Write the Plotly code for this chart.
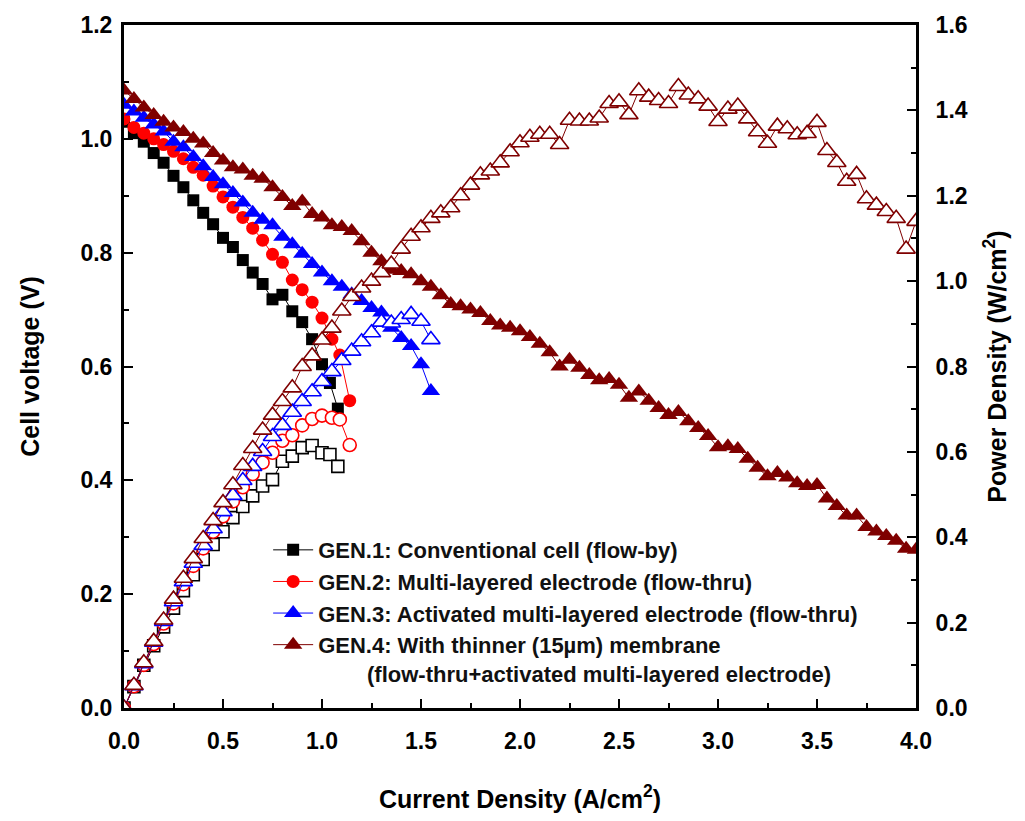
import plotly.graph_objects as go

# ---------------- data ----------------
J1 = [0.00, 0.05, 0.10, 0.15, 0.20, 0.25, 0.30, 0.35, 0.40, 0.45, 0.50, 0.55,
      0.60, 0.65, 0.70, 0.75, 0.80, 0.85, 0.90, 0.95, 1.00, 1.04, 1.08]
V1 = [1.03, 1.01, 0.995, 0.975, 0.958, 0.935, 0.915, 0.892, 0.870, 0.850, 0.826, 0.810,
      0.787, 0.765, 0.745, 0.718, 0.726, 0.697, 0.678, 0.648, 0.604, 0.571, 0.526]
P1 = [0.0, 0.050, 0.100, 0.146, 0.190, 0.234, 0.275, 0.312, 0.348, 0.383, 0.413, 0.446,
      0.472, 0.497, 0.520, 0.535, 0.578, 0.590, 0.610, 0.615, 0.598, 0.594, 0.566]

J2 = [0.00, 0.05, 0.10, 0.15, 0.20, 0.25, 0.30, 0.35, 0.40, 0.45, 0.50, 0.55,
      0.60, 0.65, 0.70, 0.75, 0.80, 0.85, 0.90, 0.95, 1.00, 1.05, 1.09, 1.14]
V2 = [1.035, 1.02, 1.01, 1.0, 0.99, 0.978, 0.965, 0.95, 0.936, 0.917, 0.898, 0.88,
      0.862, 0.843, 0.822, 0.797, 0.783, 0.752, 0.735, 0.713, 0.685, 0.648, 0.620, 0.540]
P2 = [0.0, 0.051, 0.101, 0.150, 0.198, 0.245, 0.290, 0.333, 0.374, 0.413, 0.449, 0.484,
      0.517, 0.548, 0.575, 0.598, 0.626, 0.639, 0.662, 0.677, 0.685, 0.680, 0.676, 0.616]

J3 = [0.00, 0.05, 0.10, 0.15, 0.20, 0.25, 0.30, 0.35, 0.40, 0.45, 0.50, 0.55,
      0.60, 0.65, 0.70, 0.75, 0.80, 0.85, 0.90, 0.95, 1.00, 1.05, 1.10, 1.15,
      1.20, 1.25, 1.30, 1.35, 1.40, 1.45, 1.50, 1.55]
V3 = [1.06, 1.048, 1.037, 1.025, 1.013, 0.995, 0.985, 0.968, 0.952, 0.933, 0.92, 0.905,
      0.888, 0.87, 0.858, 0.848, 0.828, 0.815, 0.798, 0.78, 0.765, 0.75, 0.74, 0.727,
      0.715, 0.703, 0.695, 0.668, 0.65, 0.636, 0.604, 0.557]
P3 = [0.0, 0.052, 0.104, 0.154, 0.203, 0.249, 0.296, 0.339, 0.381, 0.420, 0.460, 0.498,
      0.533, 0.566, 0.601, 0.636, 0.662, 0.693, 0.718, 0.741, 0.765, 0.788, 0.814, 0.836,
      0.858, 0.879, 0.904, 0.902, 0.910, 0.922, 0.906, 0.863]

J4 = [0.00, 0.05, 0.10, 0.15, 0.20, 0.25, 0.30, 0.35, 0.40, 0.45, 0.50, 0.55,
      0.60, 0.65, 0.70, 0.75, 0.80, 0.85, 0.90, 0.95, 1.00, 1.05, 1.10, 1.15,
      1.20, 1.25, 1.30, 1.35, 1.40, 1.45, 1.50, 1.55, 1.60, 1.65, 1.70, 1.75,
      1.80, 1.85, 1.90, 1.95, 2.00, 2.05, 2.10, 2.15, 2.20, 2.25, 2.30, 2.35,
      2.40, 2.45, 2.50, 2.55, 2.60, 2.65, 2.70, 2.75, 2.80, 2.85, 2.90, 2.95,
      3.00, 3.05, 3.10, 3.15, 3.20, 3.25, 3.30, 3.35, 3.40, 3.45, 3.50, 3.55,
      3.60, 3.65, 3.70, 3.75, 3.80, 3.85, 3.90, 3.95, 4.00]
V4 = [1.085, 1.07, 1.055, 1.042, 1.03, 1.02, 1.012, 1.0, 0.992, 0.975, 0.962, 0.95,
      0.946, 0.935, 0.93, 0.915, 0.898, 0.882, 0.89, 0.868, 0.862, 0.848, 0.845, 0.838,
      0.82, 0.80, 0.785, 0.77, 0.768, 0.762, 0.75, 0.74, 0.725, 0.71, 0.706, 0.70,
      0.694, 0.68, 0.672, 0.668, 0.662, 0.652, 0.64, 0.625, 0.60, 0.612, 0.598, 0.585,
      0.576, 0.578, 0.568, 0.545, 0.556, 0.54, 0.527, 0.515, 0.52, 0.504, 0.492, 0.478,
      0.458, 0.46, 0.455, 0.438, 0.422, 0.407, 0.413, 0.405, 0.395, 0.39, 0.392, 0.368,
      0.355, 0.338, 0.338, 0.318, 0.31, 0.302, 0.294, 0.28, 0.278]
P4 = [0.0, 0.053, 0.106, 0.156, 0.206, 0.255, 0.304, 0.350, 0.397, 0.439, 0.481, 0.523,
      0.568, 0.608, 0.651, 0.686, 0.718, 0.750, 0.800, 0.825, 0.862, 0.890, 0.930, 0.964,
      0.984, 1.000, 1.020, 1.040, 1.075, 1.105, 1.125, 1.147, 1.160, 1.172, 1.200, 1.225,
      1.249, 1.258, 1.277, 1.303, 1.324, 1.337, 1.344, 1.344, 1.320, 1.377, 1.375, 1.375,
      1.382, 1.416, 1.420, 1.390, 1.446, 1.431, 1.423, 1.416, 1.456, 1.436, 1.427, 1.410,
      1.374, 1.403, 1.410, 1.380, 1.350, 1.323, 1.363, 1.357, 1.343, 1.346, 1.372, 1.306,
      1.278, 1.234, 1.250, 1.193, 1.178, 1.163, 1.147, 1.075, 1.140]

NAMES = ["GEN.1: Conventional cell (flow-by)",
         "GEN.2: Multi-layered electrode (flow-thru)",
         "GEN.3: Activated multi-layered electrode (flow-thru)",
         "GEN.4: With thinner (15\u00b5m) membrane<br>" + "\u00a0" * 8 +
         "(flow-thru+activated multi-layered electrode)"]
COLORS = ["#000000", "#ff0000", "#0000ff", "#7f0000"]
SYMBOLS = ["square", "circle", "triangle-up", "triangle-up"]
SIZES = [12, 13, 16, 16]

series = [(J1, V1, P1), (J2, V2, P2), (J3, V3, P3), (J4, V4, P4)]

fig = go.Figure()

# power density (open symbols, right axis)
for (J, V, P), c, s, sz in zip(series, COLORS, SYMBOLS, SIZES):
    fig.add_trace(go.Scatter(
        x=J, y=P, yaxis="y2", mode="lines+markers", showlegend=False,
        line=dict(color=c, width=1),
        marker=dict(symbol=s, size=sz, color="white", line=dict(color=c, width=1.6)),
    ))

# cell voltage (filled symbols, left axis)
for (J, V, P), c, s, sz, n in zip(series, COLORS, SYMBOLS, SIZES, NAMES):
    fig.add_trace(go.Scatter(
        x=J, y=V, yaxis="y", mode="lines+markers", name=n,
        line=dict(color=c, width=1),
        marker=dict(symbol=s, size=sz, color=c, line=dict(width=0)),
    ))

FONT = "Liberation Sans, Arial, sans-serif"
tickfont = dict(family=FONT, size=23, color="black", weight="bold")
titlefont = dict(family=FONT, size=25, color="black", weight="bold")

axis_common = dict(
    showline=True, linewidth=3, linecolor="black",
    ticks="inside", ticklen=9, tickwidth=2, tickcolor="black",
    showgrid=False, zeroline=False, tickfont=tickfont, tickformat=".1f",
)

fig.update_layout(
    width=1025, height=821,
    margin=dict(l=124, r=109, t=23, b=113),
    paper_bgcolor="white", plot_bgcolor="white",
    xaxis=dict(range=[0, 4.0], dtick=0.5, mirror=True, ticklabelstandoff=10,
               minor=dict(dtick=0.25, ticks="inside", ticklen=5, tickwidth=2, tickcolor="black"),
               title=dict(text="Current Density (A/cm<sup>2</sup>)", font=titlefont, standoff=38),
               **axis_common),
    yaxis=dict(range=[0, 1.2], dtick=0.2, ticklabelstandoff=4,
               minor=dict(dtick=0.1, ticks="inside", ticklen=5, tickwidth=2, tickcolor="black"),
               title=dict(text="Cell voltage (V)", font=titlefont, standoff=34),
               **axis_common),
    yaxis2=dict(range=[0, 1.6], dtick=0.2, overlaying="y", side="right", ticklabelstandoff=12,
                minor=dict(dtick=0.1, ticks="inside", ticklen=5, tickwidth=2, tickcolor="black"),
                title=dict(text="Power Density (W/cm<sup>2</sup>)", font=titlefont, standoff=22),
                **axis_common),
    legend=dict(x=0.182, y=0.262, xanchor="left", yanchor="top",
                bgcolor="rgba(0,0,0,0)", valign="top",
                font=dict(family=FONT, size=22, color="#111111", weight="bold"),
                tracegroupgap=0, itemwidth=40),
)

fig.write_html("out.html")
